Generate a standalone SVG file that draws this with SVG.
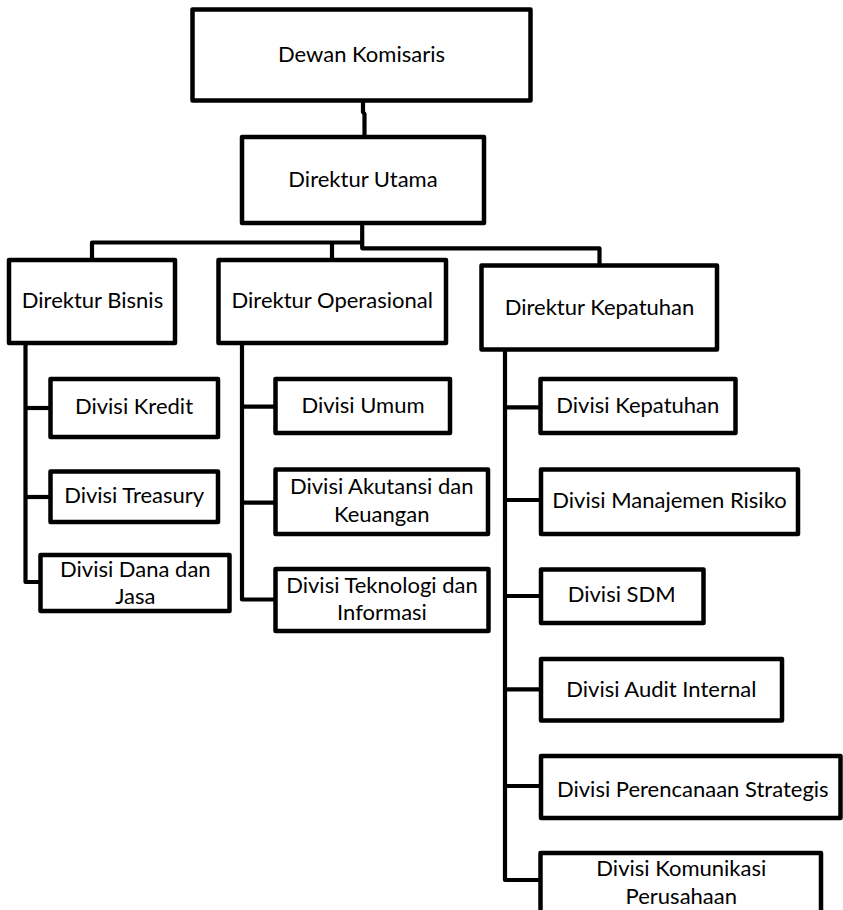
<svg xmlns="http://www.w3.org/2000/svg" width="843" height="910" viewBox="0 0 843 910">
<style>
.box{fill:#fff;stroke:#000;stroke-width:4.5;stroke-linejoin:round}
.ln{fill:none;stroke:#000;stroke-width:4.2;stroke-linejoin:round;stroke-linecap:butt}
text{font-family:Lato,"Open Sans","Liberation Sans",sans-serif;font-size:22px;fill:#000;text-anchor:middle}
</style>
<rect width="843" height="910" fill="#fff"/>
<g id="connectors">
<path class="ln" d="M363 100 V112 L364.5 114 V137"/>
<path class="ln" d="M362.2 223 V248.3 H599.5 V265.5"/>
<path class="ln" d="M362.2 242.5 H92 V260"/>
<path class="ln" d="M332 242.5 V260"/>
<path class="ln" d="M25.5 343 V582 H40.5"/>
<path class="ln" d="M25.5 408 H50.5"/>
<path class="ln" d="M25.5 497 H50.5"/>
<path class="ln" d="M242 343 V599.5 H275.5"/>
<path class="ln" d="M242 406.7 H275.5"/>
<path class="ln" d="M242 502.7 H275.5"/>
<path class="ln" d="M505 349.5 V880 H540.5"/>
<path class="ln" d="M505 407.3 H540.5"/>
<path class="ln" d="M505 500 H541"/>
<path class="ln" d="M505 596 H541"/>
<path class="ln" d="M505 689.3 H541"/>
<path class="ln" d="M505 786 H541"/>
</g>
<g id="dewan-komisaris"><rect class="box" x="192.5" y="9.5" width="338" height="91"/><text x="361.5" y="61.7">Dewan Komisaris</text></g>
<g id="direktur-utama"><rect class="box" x="242" y="137" width="242" height="86"/><text x="363" y="186.7">Direktur Utama</text></g>
<g id="direktur-bisnis"><rect class="box" x="9" y="260" width="166" height="83"/><text x="92.5" y="308.3">Direktur Bisnis</text></g>
<g id="direktur-operasional"><rect class="box" x="218.5" y="260" width="227.5" height="83"/><text x="332.2" y="308.3">Direktur Operasional</text></g>
<g id="direktur-kepatuhan"><rect class="box" x="481.5" y="265.5" width="235.5" height="84"/><text x="599.5" y="315">Direktur Kepatuhan</text></g>
<g id="divisi-kredit"><rect class="box" x="50.5" y="379" width="167.5" height="58"/><text x="134" y="414.3">Divisi Kredit</text></g>
<g id="divisi-treasury"><rect class="box" x="50.5" y="471.5" width="167.5" height="50.5"/><text x="134.2" y="503.3">Divisi Treasury</text></g>
<g id="divisi-dana-jasa"><rect class="box" x="40.5" y="555" width="189" height="56"/><text x="135.3" y="576.7">Divisi Dana dan</text><text x="135.3" y="603.5">Jasa</text></g>
<g id="divisi-umum"><rect class="box" x="275.5" y="379" width="174.5" height="54"/><text x="363" y="412.7">Divisi Umum</text></g>
<g id="divisi-akutansi-keuangan"><rect class="box" x="275.5" y="469.5" width="212.5" height="64.5"/><text x="381.7" y="494.3">Divisi Akutansi dan</text><text x="381.7" y="521.7">Keuangan</text></g>
<g id="divisi-teknologi-informasi"><rect class="box" x="275.5" y="569" width="213" height="62"/><text x="382" y="593.3">Divisi Teknologi dan</text><text x="382" y="620">Informasi</text></g>
<g id="divisi-kepatuhan"><rect class="box" x="540.5" y="379" width="195" height="54"/><text x="637.8" y="412.7">Divisi Kepatuhan</text></g>
<g id="divisi-manajemen-risiko"><rect class="box" x="541" y="469.5" width="257" height="64.5"/><text x="669.5" y="508.3">Divisi Manajemen Risiko</text></g>
<g id="divisi-sdm"><rect class="box" x="541" y="569.5" width="162.5" height="53.5"/><text x="621.7" y="601.7">Divisi SDM</text></g>
<g id="divisi-audit-internal"><rect class="box" x="541" y="659" width="241" height="61.5"/><text x="661.3" y="696.7">Divisi Audit Internal</text></g>
<g id="divisi-perencanaan-strategis"><rect class="box" x="541" y="756" width="299.5" height="62"/><text x="692.8" y="796.7">Divisi Perencanaan Strategis</text></g>
<g id="divisi-komunikasi-perusahaan"><rect class="box" x="540.5" y="853" width="280.5" height="64"/><text x="681.3" y="876">Divisi Komunikasi</text><text x="681.3" y="904">Perusahaan</text></g>
</svg>
